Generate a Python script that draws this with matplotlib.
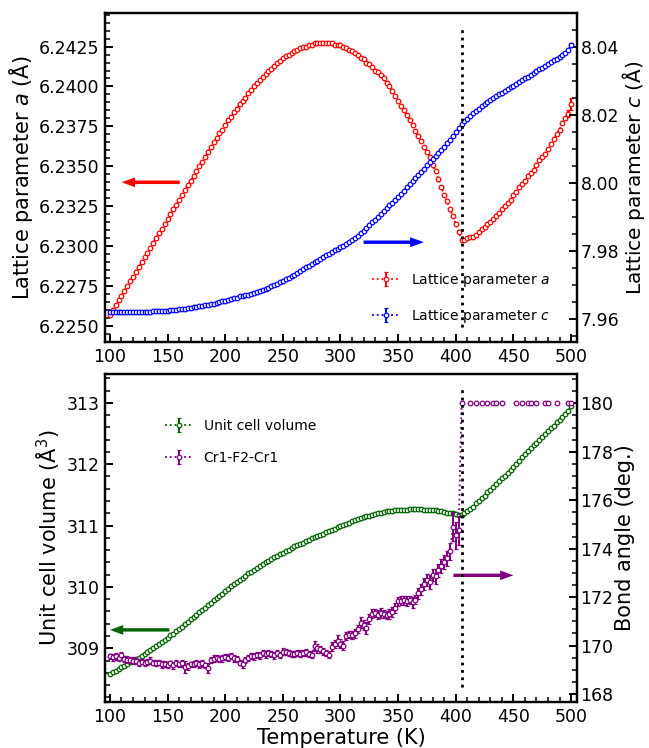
import numpy as np
import matplotlib
matplotlib.use("Agg")
import matplotlib.pyplot as plt
from matplotlib.ticker import MultipleLocator, FormatStrFormatter

nan = np.nan

# Temperature (K)
T = [100.0, 102.5, 105.0, 107.5, 110.0, 112.5, 115.0, 117.5, 120.0, 122.5,
     125.0, 127.5, 130.0, 132.5, 135.0, 137.5, 140.0, 142.5, 145.0, 147.5,
     150.0, 152.5, 155.0, 157.5, 160.0, 162.5, 165.0, 167.5, 170.0, 172.5,
     175.0, 177.5, 180.0, 182.5, 185.0, 187.5, 190.0, 192.5, 195.0, 197.5,
     200.0, 202.5, 205.0, 207.5, 210.0, 212.5, 215.0, 217.5, 220.0, 222.5,
     225.0, 227.5, 230.0, 232.5, 235.0, 237.5, 240.0, 242.5, 245.0, 247.5,
     250.0, 252.5, 255.0, 257.5, 260.0, 262.5, 265.0, 267.5, 270.0, 272.5,
     275.0, 277.5, 280.0, 282.5, 285.0, 287.5, 290.0, 292.5, 295.0, 297.5,
     300.0, 302.5, 305.0, 307.5, 310.0, 312.5, 315.0, 317.5, 320.0, 322.5,
     325.0, 327.5, 330.0, 332.5, 335.0, 337.5, 340.0, 342.5, 345.0, 347.5,
     350.0, 352.5, 355.0, 357.5, 360.0, 362.5, 365.0, 367.5, 370.0, 372.5,
     375.0, 377.5, 380.0, 382.5, 385.0, 387.5, 390.0, 392.5, 395.0, 397.5,
     400.0, 402.5, 405.0, 407.5, 410.0, 412.5, 415.0, 417.5, 420.0, 422.5,
     425.0, 427.5, 430.0, 432.5, 435.0, 437.5, 440.0, 442.5, 445.0, 447.5,
     450.0, 452.5, 455.0, 457.5, 460.0, 462.5, 465.0, 467.5, 470.0, 472.5,
     475.0, 477.5, 480.0, 482.5, 485.0, 487.5, 490.0, 492.5, 495.0, 497.5,
     500.0]

# Lattice parameter a (Angstrom)
a_vals = [6.2257, 6.2260, 6.2263, 6.2266, 6.2269, 6.2272, 6.2275, 6.2278, 6.2281, 6.2284,
          6.2287, 6.2290, 6.2293, 6.2296, 6.2299, 6.2302, 6.2305, 6.2308, 6.2311, 6.2314,
          6.2317, 6.2320, 6.2323, 6.2326, 6.2329, 6.2332, 6.2335, 6.2338, 6.2341, 6.2344,
          6.2347, 6.2350, 6.2353, 6.2356, 6.2359, 6.2362, 6.2365, 6.2368, 6.2371, 6.2373,
          6.2376, 6.2379, 6.2381, 6.2384, 6.2386, 6.2389, 6.2391, 6.2393, 6.2396, 6.2398,
          6.2400, 6.2402, 6.2404, 6.2406, 6.2408, 6.2410, 6.2411, 6.2413, 6.2415, 6.2416,
          6.2418, 6.2419, 6.2420, 6.2421, 6.2422, 6.2423, 6.2424, 6.2425, 6.2425, 6.2426,
          6.2426, 6.2427, 6.2427, 6.2427, 6.2427, 6.2427, 6.2427, 6.2427, 6.2426, 6.2426,
          6.2426, 6.2425, 6.2424, 6.2423, 6.2422, 6.2421, 6.2420, 6.2418, 6.2417, 6.2415,
          6.2414, 6.2412, 6.2410, 6.2409, 6.2407, 6.2405, 6.2402, 6.2400, 6.2397, 6.2394,
          6.2391, 6.2388, 6.2385, 6.2382, 6.2379, 6.2376, 6.2372, 6.2369, 6.2366, 6.2362,
          6.2359, 6.2356, 6.2351, 6.2347, 6.2342, 6.2337, 6.2332, 6.2328, 6.2323, 6.2319,
          6.2314, 6.2309, 6.2304, 6.2304, 6.2305, 6.2306, 6.2306, 6.2307, 6.2309, 6.2311,
          6.2312, 6.2314, 6.2315, 6.2317, 6.2319, 6.2321, 6.2323, 6.2325, 6.2327, 6.2329,
          6.2332, 6.2334, 6.2337, 6.2339, 6.2341, 6.2344, 6.2346, 6.2348, 6.2351, 6.2354,
          6.2356, 6.2358, 6.2361, 6.2364, 6.2367, 6.2370, 6.2373, 6.2377, 6.2380, 6.2383,
          6.2389]
a_err = [0.00003, 0.00003, 0.00003, 0.00003, 0.00003, 0.00003, 0.00003, 0.00003, 0.00003, 0.00003,
         0.00003, 0.00003, 0.00003, 0.00003, 0.00003, 0.00003, 0.00003, 0.00003, 0.00003, 0.00003,
         0.00003, 0.00003, 0.00003, 0.00003, 0.00003, 0.00003, 0.00003, 0.00003, 0.00003, 0.00003,
         0.00003, 0.00003, 0.00003, 0.00003, 0.00003, 0.00003, 0.00003, 0.00003, 0.00003, 0.00003,
         0.00003, 0.00003, 0.00003, 0.00003, 0.00003, 0.00003, 0.00003, 0.00003, 0.00003, 0.00003,
         0.00003, 0.00003, 0.00003, 0.00003, 0.00003, 0.00003, 0.00003, 0.00003, 0.00003, 0.00003,
         0.00003, 0.00003, 0.00003, 0.00003, 0.00003, 0.00003, 0.00003, 0.00003, 0.00003, 0.00003,
         0.00003, 0.00003, 0.00003, 0.00003, 0.00003, 0.00003, 0.00003, 0.00003, 0.00003, 0.00003,
         0.00003, 0.00003, 0.00003, 0.00003, 0.00003, 0.00003, 0.00003, 0.00003, 0.00003, 0.00003,
         0.00003, 0.00003, 0.00003, 0.00003, 0.00003, 0.00003, 0.00003, 0.00003, 0.00003, 0.00003,
         0.00003, 0.00003, 0.00003, 0.00003, 0.00003, 0.00003, 0.00003, 0.00003, 0.00003, 0.00003,
         0.00003, 0.00003, 0.00003, 0.00003, 0.00003, 0.00003, 0.00003, 0.00003, 0.00003, 0.00003,
         0.00003, 0.00003, 0.00003, 0.00003, 0.00003, 0.00003, 0.00003, 0.00003, 0.00003, 0.00003,
         0.00003, 0.00003, 0.00003, 0.00003, 0.00003, 0.00003, 0.00003, 0.00003, 0.00003, 0.00003,
         0.00003, 0.00003, 0.00003, 0.00003, 0.00003, 0.00003, 0.00003, 0.00003, 0.00003, 0.00003,
         0.00003, 0.00003, 0.00003, 0.00003, 0.00003, 0.00003, 0.00003, 0.00005, 0.00010, 0.00020,
         0.00040]

# Lattice parameter c (Angstrom)
c_vals = [7.9620, 7.9620, 7.9620, 7.9620, 7.9620, 7.9620, 7.9620, 7.9621, 7.9621, 7.9621,
          7.9621, 7.9621, 7.9622, 7.9622, 7.9622, 7.9623, 7.9623, 7.9624, 7.9624, 7.9625,
          7.9625, 7.9626, 7.9627, 7.9628, 7.9629, 7.9630, 7.9631, 7.9632, 7.9634, 7.9635,
          7.9637, 7.9638, 7.9640, 7.9641, 7.9643, 7.9644, 7.9646, 7.9648, 7.9650, 7.9652,
          7.9654, 7.9656, 7.9658, 7.9661, 7.9663, 7.9667, 7.9669, 7.9670, 7.9672, 7.9674,
          7.9676, 7.9679, 7.9682, 7.9685, 7.9689, 7.9692, 7.9696, 7.9700, 7.9704, 7.9708,
          7.9713, 7.9717, 7.9721, 7.9726, 7.9731, 7.9736, 7.9741, 7.9746, 7.9752, 7.9757,
          7.9762, 7.9767, 7.9772, 7.9777, 7.9782, 7.9787, 7.9792, 7.9797, 7.9802, 7.9807,
          7.9811, 7.9815, 7.9821, 7.9827, 7.9833, 7.9839, 7.9845, 7.9852, 7.9860, 7.9868,
          7.9876, 7.9884, 7.9892, 7.9901, 7.9909, 7.9917, 7.9925, 7.9934, 7.9942, 7.9951,
          7.9960, 7.9968, 7.9977, 7.9987, 7.9996, 8.0005, 8.0014, 8.0023, 8.0032, 8.0042,
          8.0052, 8.0062, 8.0070, 8.0079, 8.0088, 8.0096, 8.0106, 8.0116, 8.0126, 8.0137,
          8.0149, 8.0161, 8.0172, 8.0181, 8.0189, 8.0197, 8.0204, 8.0211, 8.0218, 8.0225,
          8.0231, 8.0238, 8.0244, 8.0250, 8.0255, 8.0260, 8.0265, 8.0271, 8.0276, 8.0281,
          8.0286, 8.0291, 8.0296, 8.0301, 8.0307, 8.0312, 8.0318, 8.0323, 8.0329, 8.0334,
          8.0339, 8.0344, 8.0350, 8.0355, 8.0360, 8.0365, 8.0371, 8.0377, 8.0383, 8.0390,
          8.0406]
c_err = [0.0001, 0.0001, 0.0001, 0.0001, 0.0001, 0.0001, 0.0001, 0.0001, 0.0001, 0.0001,
         0.0001, 0.0001, 0.0001, 0.0001, 0.0001, 0.0001, 0.0001, 0.0001, 0.0001, 0.0001,
         0.0001, 0.0001, 0.0001, 0.0001, 0.0001, 0.0001, 0.0001, 0.0001, 0.0001, 0.0001,
         0.0001, 0.0001, 0.0001, 0.0001, 0.0001, 0.0001, 0.0001, 0.0001, 0.0001, 0.0001,
         0.0001, 0.0001, 0.0001, 0.0001, 0.0001, 0.0001, 0.0001, 0.0001, 0.0001, 0.0001,
         0.0001, 0.0001, 0.0001, 0.0001, 0.0001, 0.0001, 0.0001, 0.0001, 0.0001, 0.0001,
         0.0001, 0.0001, 0.0001, 0.0001, 0.0001, 0.0001, 0.0001, 0.0001, 0.0001, 0.0001,
         0.0001, 0.0001, 0.0001, 0.0001, 0.0001, 0.0001, 0.0001, 0.0001, 0.0001, 0.0001,
         0.0001, 0.0001, 0.0001, 0.0001, 0.0001, 0.0001, 0.0001, 0.0001, 0.0001, 0.0001,
         0.0001, 0.0001, 0.0001, 0.0001, 0.0001, 0.0001, 0.0001, 0.0001, 0.0001, 0.0001,
         0.0001, 0.0001, 0.0001, 0.0001, 0.0001, 0.0001, 0.0001, 0.0001, 0.0001, 0.0001,
         0.0001, 0.0001, 0.0001, 0.0001, 0.0001, 0.0001, 0.0001, 0.0001, 0.0001, 0.0001,
         0.0001, 0.0001, 0.0001, 0.0001, 0.0001, 0.0001, 0.0001, 0.0001, 0.0001, 0.0001,
         0.0001, 0.0001, 0.0001, 0.0001, 0.0001, 0.0001, 0.0001, 0.0001, 0.0001, 0.0001,
         0.0001, 0.0001, 0.0001, 0.0001, 0.0001, 0.0001, 0.0001, 0.0001, 0.0001, 0.0001,
         0.0001, 0.0001, 0.0001, 0.0001, 0.0001, 0.0001, 0.0001, 0.0001, 0.0001, 0.0002,
         0.0006]

# Unit cell volume (Angstrom^3)
V_vals = [308.58, 308.61, 308.63, 308.66, 308.69, 308.71, 308.74, 308.77, 308.80, 308.82,
          308.85, 308.88, 308.91, 308.94, 308.97, 309.00, 309.03, 309.07, 309.10, 309.14,
          309.17, 309.21, 309.24, 309.28, 309.32, 309.35, 309.39, 309.43, 309.47, 309.51,
          309.55, 309.59, 309.63, 309.66, 309.70, 309.74, 309.78, 309.82, 309.86, 309.89,
          309.93, 309.97, 310.01, 310.04, 310.08, 310.12, 310.15, 310.18, 310.22, 310.25,
          310.28, 310.31, 310.34, 310.37, 310.40, 310.43, 310.46, 310.48, 310.51, 310.53,
          310.56, 310.58, 310.61, 310.63, 310.66, 310.68, 310.70, 310.72, 310.75, 310.77,
          310.79, 310.81, 310.83, 310.85, 310.87, 310.89, 310.91, 310.93, 310.95, 310.97,
          310.99, 311.01, 311.03, 311.05, 311.07, 311.09, 311.10, 311.12, 311.14, 311.15,
          311.16, 311.18, 311.19, 311.20, 311.21, 311.22, 311.23, 311.24, 311.24, 311.25,
          311.25, 311.26, 311.26, 311.26, 311.27, 311.27, 311.27, 311.27, 311.27, 311.26,
          311.26, 311.26, 311.25, 311.25, 311.24, 311.23, 311.22, 311.21, 311.21, 311.20,
          311.19, 311.18, 311.18, 311.21, 311.24, 311.27, 311.31, 311.36, 311.40, 311.45,
          311.49, 311.54, 311.58, 311.63, 311.67, 311.72, 311.77, 311.81, 311.86, 311.91,
          311.96, 312.01, 312.06, 312.11, 312.16, 312.21, 312.26, 312.31, 312.35, 312.40,
          312.45, 312.50, 312.54, 312.59, 312.63, 312.68, 312.72, 312.77, 312.82, 312.87,
          312.95]
V_err = [0.01, 0.01, 0.01, 0.01, 0.01, 0.01, 0.01, 0.01, 0.01, 0.01,
         0.01, 0.01, 0.01, 0.01, 0.01, 0.01, 0.01, 0.01, 0.01, 0.01,
         0.01, 0.01, 0.01, 0.01, 0.01, 0.01, 0.01, 0.01, 0.01, 0.01,
         0.01, 0.01, 0.01, 0.01, 0.01, 0.01, 0.01, 0.01, 0.01, 0.01,
         0.01, 0.01, 0.01, 0.01, 0.01, 0.01, 0.01, 0.01, 0.01, 0.01,
         0.01, 0.01, 0.01, 0.01, 0.01, 0.01, 0.01, 0.01, 0.01, 0.01,
         0.01, 0.01, 0.01, 0.01, 0.01, 0.01, 0.01, 0.01, 0.01, 0.01,
         0.01, 0.01, 0.01, 0.01, 0.01, 0.01, 0.01, 0.01, 0.01, 0.01,
         0.01, 0.01, 0.01, 0.01, 0.01, 0.01, 0.01, 0.01, 0.01, 0.01,
         0.01, 0.01, 0.01, 0.01, 0.01, 0.01, 0.01, 0.01, 0.01, 0.01,
         0.01, 0.01, 0.01, 0.01, 0.01, 0.01, 0.01, 0.01, 0.01, 0.01,
         0.01, 0.01, 0.01, 0.01, 0.01, 0.01, 0.01, 0.01, 0.01, 0.01,
         0.01, 0.01, 0.01, 0.01, 0.01, 0.01, 0.01, 0.01, 0.01, 0.01,
         0.01, 0.01, 0.01, 0.01, 0.01, 0.01, 0.01, 0.01, 0.01, 0.01,
         0.01, 0.01, 0.01, 0.01, 0.01, 0.01, 0.01, 0.01, 0.01, 0.01,
         0.01, 0.01, 0.01, 0.01, 0.01, 0.01, 0.01, 0.01, 0.01, 0.01,
         0.02]

# Cr1-F2-Cr1 bond angle (deg.)
B_vals = [169.55, 169.52, 169.55, 169.48, 169.60, 169.45, 169.42, 169.40, 169.38, 169.36,
          169.30, 169.34, 169.28, 169.32, 169.38, 169.30, 169.27, 169.30, 169.22, 169.24,
          169.20, 169.26, 169.18, 169.28, 169.22, 169.26, 169.10, 169.14, 169.22, 169.24,
          169.28, 169.22, 169.26, 169.18, 169.08, 169.40, 169.45, 169.50, 169.44, 169.48,
          169.54, 169.50, 169.56, 169.48, 169.44, 169.30, 169.22, 169.40, 169.50, 169.58,
          169.55, 169.62, 169.60, 169.68, 169.64, 169.70, 169.66, 169.60, 169.68, 169.62,
          169.75, 169.72, 169.68, 169.65, 169.64, 169.68, 169.66, 169.70, 169.72, 169.66,
          169.62, 169.98, 169.88, 169.84, 169.76, 169.70, 169.62, 169.95, 170.05, 170.20,
          170.08, 170.00, 170.40, 170.45, 170.42, 170.50, 170.68, 170.95, 170.85, 170.72,
          171.10, 171.32, 171.35, 171.28, 171.34, 171.30, 171.26, 171.30, 171.38, 171.55,
          171.82, 171.85, 171.86, 171.84, 171.88, 171.78, 171.90, 172.15, 172.32, 172.55,
          172.72, 172.62, 172.90, 172.86, 173.10, 173.28, 173.45, 173.60, 173.90, 174.90,
          174.55, 174.75, 180.00, nan, nan, 180.00, nan, 180.00, nan, 180.00,
          nan, 180.00, nan, 180.00, 180.00, nan, 180.00, nan, nan, nan,
          nan, 180.00, nan, 180.00, nan, 180.00, 180.00, nan, 180.00, nan,
          nan, 180.00, 180.00, nan, nan, 180.00, nan, nan, nan, 180.00,
          180.00]
B_err = [0.12, 0.14, 0.15, 0.12, 0.14, 0.12, 0.13, 0.12, 0.15, 0.12,
         0.14, 0.12, 0.13, 0.12, 0.14, 0.12, 0.13, 0.12, 0.15, 0.12,
         0.13, 0.12, 0.14, 0.13, 0.12, 0.15, 0.25, 0.13, 0.12, 0.13,
         0.12, 0.13, 0.14, 0.12, 0.22, 0.13, 0.14, 0.12, 0.13, 0.14,
         0.13, 0.15, 0.12, 0.14, 0.13, 0.12, 0.15, 0.14, 0.13, 0.12,
         0.14, 0.13, 0.15, 0.12, 0.14, 0.13, 0.12, 0.14, 0.13, 0.12,
         0.15, 0.13, 0.12, 0.14, 0.13, 0.12, 0.14, 0.13, 0.15, 0.12,
         0.14, 0.20, 0.18, 0.15, 0.14, 0.13, 0.15, 0.18, 0.16, 0.22,
         0.20, 0.18, 0.16, 0.15, 0.17, 0.18, 0.16, 0.22, 0.20, 0.25,
         0.20, 0.18, 0.17, 0.20, 0.22, 0.18, 0.17, 0.19, 0.20, 0.22,
         0.20, 0.18, 0.19, 0.20, 0.18, 0.22, 0.20, 0.21, 0.22, 0.24,
         0.25, 0.30, 0.25, 0.32, 0.26, 0.28, 0.30, 0.32, 0.35, 0.60,
         0.55, 0.60, 0.00, 0.00, 0.00, 0.00, 0.00, 0.00, 0.00, 0.00,
         0.00, 0.00, 0.00, 0.00, 0.00, 0.00, 0.00, 0.00, 0.00, 0.00,
         0.00, 0.00, 0.00, 0.00, 0.00, 0.00, 0.00, 0.00, 0.00, 0.00,
         0.00, 0.00, 0.00, 0.00, 0.00, 0.00, 0.00, 0.00, 0.00, 0.00,
         0.00]

T_transition = 405.0

plt.rcParams['font.family'] = ['DejaVu Sans']
plt.rcParams['mathtext.fontset'] = 'dejavusans'

fig = plt.figure(figsize=(6.49, 7.48), dpi=100)
ax1 = fig.add_axes([0.1618, 0.5428, 0.7273, 0.4398])
ax3 = fig.add_axes([0.1618, 0.0615, 0.7273, 0.4385])
ax2 = ax1.twinx()
ax4 = ax3.twinx()

mk = dict(fmt='o:', ms=3.3, mew=0.9, mfc='white', lw=1.3, elinewidth=1.4, capsize=1.6, capthick=1.2)

h_a = ax1.errorbar(T, a_vals, yerr=a_err, color='red', label='Lattice parameter $a$', **mk)
h_c = ax2.errorbar(T, c_vals, yerr=c_err, color='blue', label='Lattice parameter $c$', **mk)
h_v = ax3.errorbar(T, V_vals, yerr=V_err, color='darkgreen', label='Unit cell volume', **mk)
h_b = ax4.errorbar(T, B_vals, yerr=B_err, color='purple', label='Cr1-F2-Cr1', **mk)

for ax in (ax2, ax4):
    ax.axvline(T_transition, ymin=0.045, ymax=0.955, color='black', ls=':', lw=2.0, zorder=5)

# arrows
ax1.arrow(160.5, 6.2340, -50.3, 0, width=0.00022, head_width=0.00062, head_length=11.5,
          length_includes_head=True, color='red', lw=0)
ax2.arrow(320, 7.9826, 52.4, 0, width=0.0010, head_width=0.0029, head_length=12,
          length_includes_head=True, color='blue', lw=0)
ax3.arrow(151.5, 309.30, -51.5, 0, width=0.055, head_width=0.16, head_length=11.5,
          length_includes_head=True, color='darkgreen', lw=0)
ax4.arrow(398, 172.9, 52, 0, width=0.14, head_width=0.40, head_length=11.5,
          length_includes_head=True, color='purple', lw=0)

ax1.set_xlim(95.7, 505.2)
ax3.set_xlim(95.7, 505.2)
ax1.set_ylim(6.2240, 6.2446)
ax2.set_ylim(7.9533, 8.0499)
ax3.set_ylim(308.125, 313.47)
ax4.set_ylim(167.67, 181.21)

for ax in (ax1, ax3):
    ax.xaxis.set_major_locator(MultipleLocator(50))
    ax.xaxis.set_minor_locator(MultipleLocator(10))
ax1.yaxis.set_major_locator(MultipleLocator(0.0025))
ax1.yaxis.set_minor_locator(MultipleLocator(0.0005))
ax1.yaxis.set_major_formatter(FormatStrFormatter('%.4f'))
ax2.yaxis.set_major_locator(MultipleLocator(0.02))
ax2.yaxis.set_minor_locator(MultipleLocator(0.005))
ax2.yaxis.set_major_formatter(FormatStrFormatter('%.2f'))
ax3.yaxis.set_major_locator(MultipleLocator(1))
ax3.yaxis.set_minor_locator(MultipleLocator(0.2))
ax4.yaxis.set_major_locator(MultipleLocator(2))
ax4.yaxis.set_minor_locator(MultipleLocator(0.5))

for ax in (ax1, ax2, ax3, ax4):
    ax.tick_params(which='major', direction='in', length=6, width=1.4, labelsize=12.5, pad=4)
    ax.tick_params(which='minor', direction='in', length=3.5, width=1.1)
    for sp in ax.spines.values():
        sp.set_linewidth(1.6)
for ax in (ax1, ax3):
    ax.tick_params(which='both', top=False, right=False, left=True, bottom=True)
for ax in (ax2, ax4):
    ax.tick_params(which='both', top=False, bottom=False, right=True, left=False)
    ax.tick_params(which='major', pad=2.5)

ax1.set_ylabel('Lattice parameter $a$ (Å)', fontsize=15, labelpad=3)
ax2.set_ylabel('Lattice parameter $c$ (Å)', fontsize=14.5, labelpad=0.5)
ax3.set_ylabel('Unit cell volume (Å$^3$)', fontsize=15, labelpad=3)
ax4.set_ylabel('Bond angle (deg.)', fontsize=15, labelpad=1)
ax3.set_xlabel('Temperature (K)', fontsize=15, labelpad=2)

leg1 = ax2.legend([h_a, h_c], ['Lattice parameter $a$', 'Lattice parameter $c$'],
                  loc='lower left', bbox_to_anchor=(0.54, 0.015), frameon=False,
                  fontsize=10, labelspacing=1.25, handlelength=2.0, handletextpad=0.8)
leg2 = ax4.legend([h_v, h_b], ['Unit cell volume', 'Cr1-F2-Cr1'],
                  loc='upper left', bbox_to_anchor=(0.10, 0.90), frameon=False,
                  fontsize=10, labelspacing=1.25, handlelength=2.0, handletextpad=0.8)

fig.savefig('out.png', dpi=100)
